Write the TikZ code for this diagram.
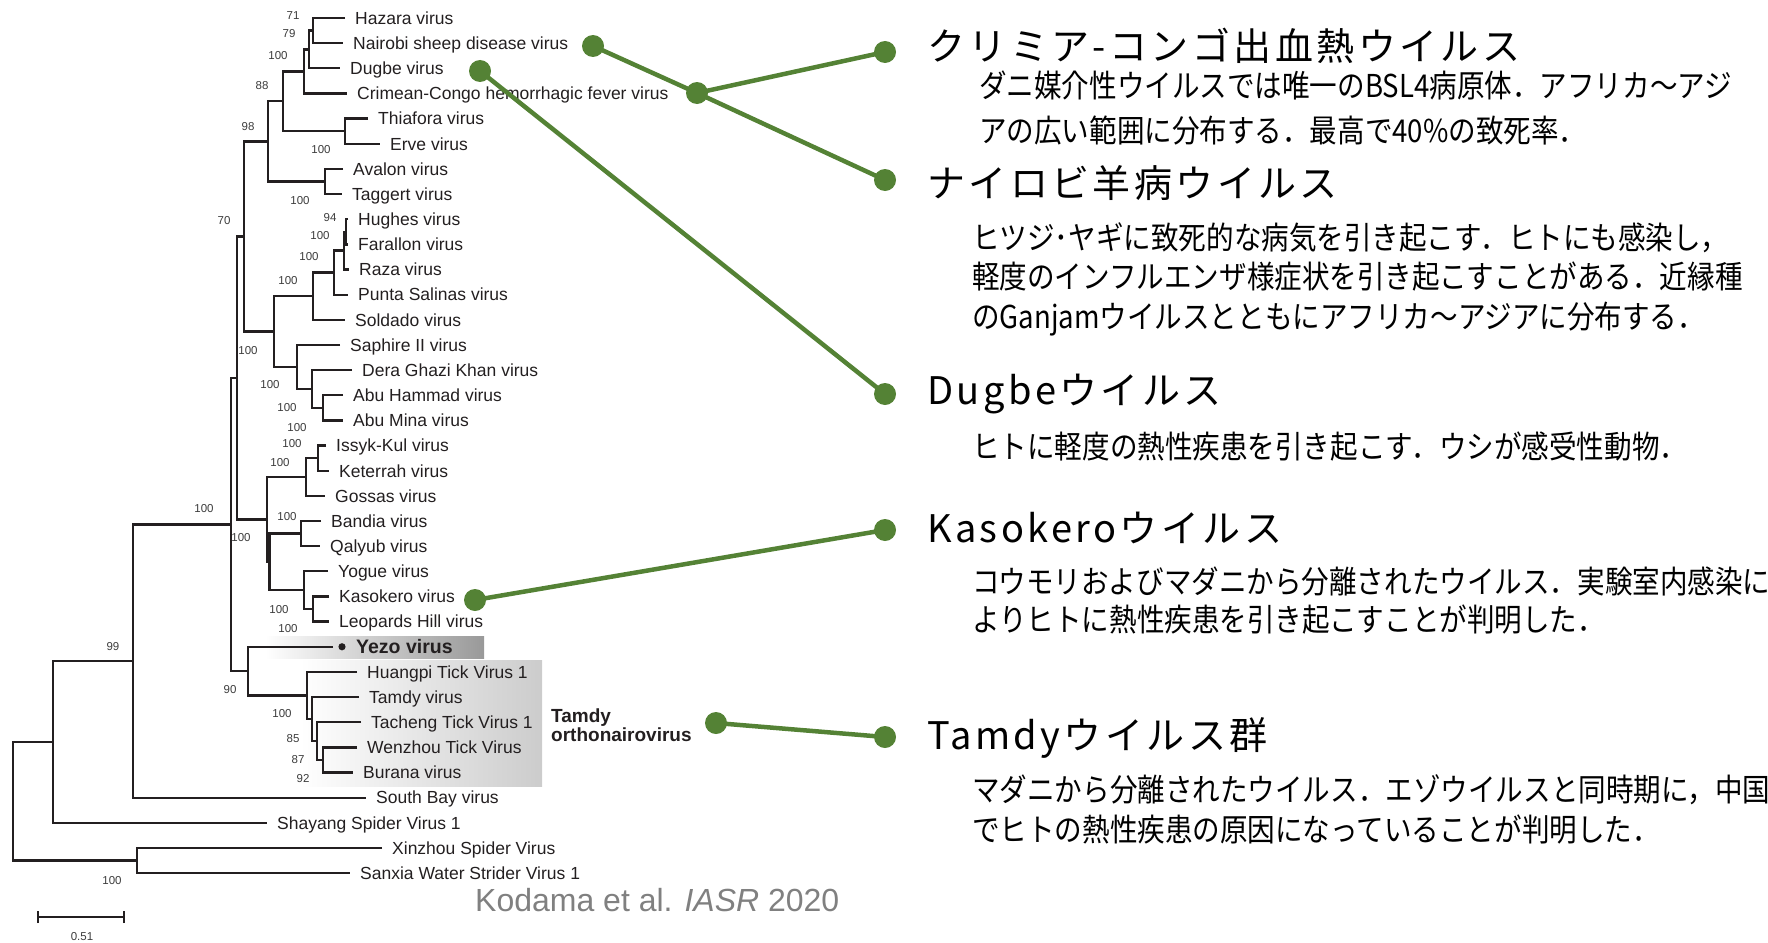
\documentclass[tikz,border=0pt]{standalone}
\usepackage{fontspec}
\setmainfont{Liberation Sans}
\newfontfamily\jptitlefam[LetterSpace=9]{Noto Sans CJK JP}
\newfontfamily\jpdescfam[FakeStretch=0.875]{Noto Sans CJK JP}
\usetikzlibrary{calc}
\definecolor{treecol}{HTML}{231F20}
\definecolor{greenA}{HTML}{548235}
\definecolor{bsgray}{HTML}{3C3C3C}
\definecolor{citegray}{HTML}{808080}
\newcommand\leaffont{\fontsize{17.5}{20}\selectfont}
\newcommand\bsfont{\fontsize{11.5}{13}\selectfont}
\newcommand\titlefont{\jptitlefam\fontsize{38}{42}\selectfont}
\newcommand\descfont{\jpdescfam\fontsize{31.5}{35}\selectfont}
\newcommand\mkclade[4]{%
  \coordinate (#1x) at (#2,0);
  \draw[tree] (#3) -- (#3 -| #1x) -- (#4 -| #1x) -- (#4);
  \coordinate (#1) at ($(#3 -| #1x)!0.5!(#4 -| #1x)$);
}
\newcommand\mkleaf[4]{%
  \node[leaf] (#1) at (#2,{18+25.15*#3}) {#4};
}
\newcommand\bs[3]{\node[bsl] at (#1,#2) {#3};}
\begin{document}
\begin{tikzpicture}[x=1pt,y=-1pt,
  tree/.style={draw=treecol,line width=2.3pt,line join=miter},
  leaf/.style={anchor=west,inner xsep=10pt,inner ysep=0pt,text height=12.6pt,text depth=0pt,font=\leaffont,text=treecol},
  bsl/.style={inner sep=0pt,text height=8.3pt,text depth=0pt,font=\bsfont,text=bsgray},
  gdot/.style={circle,fill=greenA,minimum size=22pt,inner sep=0pt},
  gline/.style={draw=greenA,line width=4.5pt},
  titlebox/.style={anchor=west,inner sep=0pt,text height=33.4pt,text depth=4.6pt,font=\titlefont},
  descbox/.style={anchor=west,inner sep=0pt,text height=27.7pt,text depth=3.8pt,font=\descfont}
]
\useasboundingbox (0,0) rectangle (1768,942);
% shaded boxes
\shade[left color=white,right color=black!40] (265,636) rectangle (484,658);
\shade[left color=white,right color=black!20] (300,660) rectangle (542,786);
% leaves
\mkleaf{hazara}{345}{0}{Hazara virus}
\mkleaf{nairobi}{343}{1}{Nairobi sheep disease virus}
\mkleaf{dugbe}{340}{2}{Dugbe virus}
\mkleaf{cchf}{347}{3}{Crimean-Congo hemorrhagic fever virus}
\mkleaf{thiafora}{368}{4}{Thiafora virus}
\mkleaf{erve}{380}{5}{Erve virus}
\mkleaf{avalon}{343}{6}{Avalon virus}
\mkleaf{taggert}{342}{7}{Taggert virus}
\mkleaf{hughes}{348}{8}{Hughes virus}
\mkleaf{farallon}{348}{9}{Farallon virus}
\mkleaf{raza}{349}{10}{Raza virus}
\mkleaf{punta}{348}{11}{Punta Salinas virus}
\mkleaf{soldado}{345}{12}{Soldado virus}
\mkleaf{saphire}{340}{13}{Saphire II virus}
\mkleaf{dera}{352}{14}{Dera Ghazi Khan virus}
\mkleaf{abuhammad}{343}{15}{Abu Hammad virus}
\mkleaf{abumina}{343}{16}{Abu Mina virus}
\mkleaf{issyk}{326}{17}{Issyk-Kul virus}
\mkleaf{keterrah}{329}{18}{Keterrah virus}
\mkleaf{gossas}{325}{19}{Gossas virus}
\mkleaf{bandia}{321}{20}{Bandia virus}
\mkleaf{qalyub}{320}{21}{Qalyub virus}
\mkleaf{yogue}{328}{22}{Yogue virus}
\mkleaf{kasokero}{329}{23}{Kasokero virus}
\mkleaf{leopards}{329}{24}{Leopards Hill virus}
\coordinate (yezotip) at (333,646.75);
\node[anchor=west,inner sep=0pt,text height=14pt,text depth=0pt,font=\fontsize{19.5}{22}\selectfont\bfseries,text=treecol] (yezo) at (356,646.75) {Yezo virus};
\fill[treecol] (342,646.75) circle (3.6pt);
\mkleaf{huangpi}{357}{26}{Huangpi Tick Virus 1}
\mkleaf{tamdy}{359}{27}{Tamdy virus}
\mkleaf{tacheng}{361}{28}{Tacheng Tick Virus 1}
\mkleaf{wenzhou}{357}{29}{Wenzhou Tick Virus}
\mkleaf{burana}{353}{30}{Burana virus}
\mkleaf{southbay}{366}{31}{South Bay virus}
\mkleaf{shayang}{267}{32}{Shayang Spider Virus 1}
\mkleaf{xinzhou}{382}{33}{Xinzhou Spider Virus}
\mkleaf{sanxia}{350}{34}{Sanxia Water Strider Virus 1}
% clades
\mkclade{n1}{313}{hazara.west}{nairobi.west}
\mkclade{n2}{309}{n1}{dugbe.west}
\mkclade{n3}{304}{n2}{cchf.west}
\mkclade{n4}{345}{thiafora.west}{erve.west}
\mkclade{n5}{283}{n3}{n4}
\mkclade{n6}{325}{avalon.west}{taggert.west}
\mkclade{n7}{268}{n5}{n6}
\mkclade{n8}{346}{hughes.west}{farallon.west}
\mkclade{n9}{344}{n8}{raza.west}
\mkclade{n10}{334}{n9}{punta.west}
\mkclade{n11}{313}{n10}{soldado.west}
\mkclade{n12}{323}{abuhammad.west}{abumina.west}
\mkclade{n13}{312}{dera.west}{n12}
\mkclade{n14}{297}{saphire.west}{n13}
\mkclade{n15}{274}{n11}{n14}
\mkclade{n16}{244}{n7}{n15}
\mkclade{n17}{318}{issyk.west}{keterrah.west}
\mkclade{n18}{306}{n17}{gossas.west}
\mkclade{n19}{301}{bandia.west}{qalyub.west}
\mkclade{n20}{313}{kasokero.west}{leopards.west}
\mkclade{n21}{304}{yogue.west}{n20}
\mkclade{n22}{269.5}{n19}{n21}
\mkclade{n23}{267}{n18}{n22}
\mkclade{n24}{237}{n16}{n23}
\mkclade{n25}{323}{wenzhou.west}{burana.west}
\mkclade{n26}{317}{tacheng.west}{n25}
\mkclade{n27}{312}{tamdy.west}{n26}
\mkclade{n28}{307}{huangpi.west}{n27}
\mkclade{n29}{248}{yezotip}{n28}
\mkclade{n30}{231}{n24}{n29}
\mkclade{n31}{133}{n30}{southbay.west}
\mkclade{n32}{53}{n31}{shayang.west}
\mkclade{n33}{137}{xinzhou.west}{sanxia.west}
\mkclade{n34}{13}{n32}{n33}
% bootstrap values
\bs{293}{15}{71}\bs{289}{33}{79}\bs{278}{55}{100}\bs{262}{85}{88}
\bs{248}{126}{98}\bs{321}{149}{100}\bs{300}{200}{100}\bs{224}{220}{70}
\bs{330}{217}{94}\bs{320}{235}{100}\bs{309}{256}{100}\bs{288}{280}{100}
\bs{248}{350}{100}\bs{270}{384}{100}\bs{287}{407}{100}\bs{297}{427}{100}
\bs{292}{443}{100}\bs{280}{462}{100}\bs{204}{508}{100}\bs{287}{516}{100}
\bs{241}{537}{100}\bs{279}{609}{100}\bs{288}{628}{100}\bs{113}{646}{99}
\bs{230}{689}{90}\bs{282}{713}{100}\bs{293}{738}{85}\bs{298}{759}{87}
\bs{303}{778}{92}\bs{112}{880}{100}
% scale bar
\coordinate (sbL) at (38,917);
\coordinate (sbR) at (124,917);
\draw[tree] (sbL) -- (sbR);
\draw[tree] ([yshift=-6pt]sbL) -- ([yshift=6pt]sbL);
\draw[tree] ([yshift=-6pt]sbR) -- ([yshift=6pt]sbR);
\node[bsl] (sblab) at (82,936) {0.51};
% Tamdy group label
\node[anchor=base west,inner sep=0pt,font=\fontsize{19}{20}\selectfont\bfseries,text=treecol] (tamdyA) at (551,722) {Tamdy};
\node[anchor=base west,inner sep=0pt,font=\fontsize{19}{20}\selectfont\bfseries,text=treecol] (tamdyB) at (551,741) {orthonairovirus};
% citation
\node[anchor=west,inner sep=0pt,text height=23pt,text depth=0pt,font=\fontsize{32}{36}\selectfont,text=citegray] (cite) at (475,900) {Kodama et al. \textit{IASR} 2020};
% green dots and connectors
\node[gdot] (gN) at (593,46) {};
\node[gdot] (gC) at (697,93) {};
\node[gdot] (gD) at (480,71) {};
\node[gdot] (gK) at (475,600) {};
\node[gdot] (gT) at (716,723) {};
\node[gdot] (r1) at (885,52) {};
\node[gdot] (r2) at (885,180) {};
\node[gdot] (r3) at (885,394) {};
\node[gdot] (r4) at (885,530) {};
\node[gdot] (r5) at (885,737) {};
\draw[gline] (gN.center) -- (gC.center);
\draw[gline] (gC.center) -- (r1.center);
\draw[gline] (gC.center) -- (r2.center);
\draw[gline] (gD.center) -- (r3.center);
\draw[gline] (gK.center) -- (r4.center);
\draw[gline] (gT.center) -- (r5.center);
% right-hand texts
\node[titlebox] (t1) at (927,46) {クリミア-コンゴ出血熱ウイルス};
\node[descbox] (d1a) at (979,86) {ダニ媒介性ウイルスでは唯一のBSL4病原体．アフリカ～アジ};
\node[descbox] (d1b) at (979,131) {アの広い範囲に分布する．最高で40\%の致死率．};
\node[titlebox] (t2) at (927,183) {ナイロビ羊病ウイルス};
\node[descbox] (d2a) at (972,238) {ヒツジ･ヤギに致死的な病気を引き起こす．ヒトにも感染し，};
\node[descbox] (d2b) at (972,277) {軽度のインフルエンザ様症状を引き起こすことがある．近縁種};
\node[descbox] (d2c) at (972,317) {のGanjamウイルスとともにアフリカ～アジアに分布する．};
\node[titlebox] (t3) at (927,390) {Dugbeウイルス};
\node[descbox] (d3a) at (972,447) {ヒトに軽度の熱性疾患を引き起こす．ウシが感受性動物．};
\node[titlebox] (t4) at (927,528) {Kasokeroウイルス};
\node[descbox] (d4a) at (972,582) {コウモリおよびマダニから分離されたウイルス．実験室内感染に};
\node[descbox] (d4b) at (972,620) {よりヒトに熱性疾患を引き起こすことが判明した．};
\node[titlebox] (t5) at (927,735) {Tamdyウイルス群};
\node[descbox] (d5a) at (972,790) {マダニから分離されたウイルス．エゾウイルスと同時期に，中国};
\node[descbox] (d5b) at (972,830) {でヒトの熱性疾患の原因になっていることが判明した．};
\end{tikzpicture}
\end{document}
